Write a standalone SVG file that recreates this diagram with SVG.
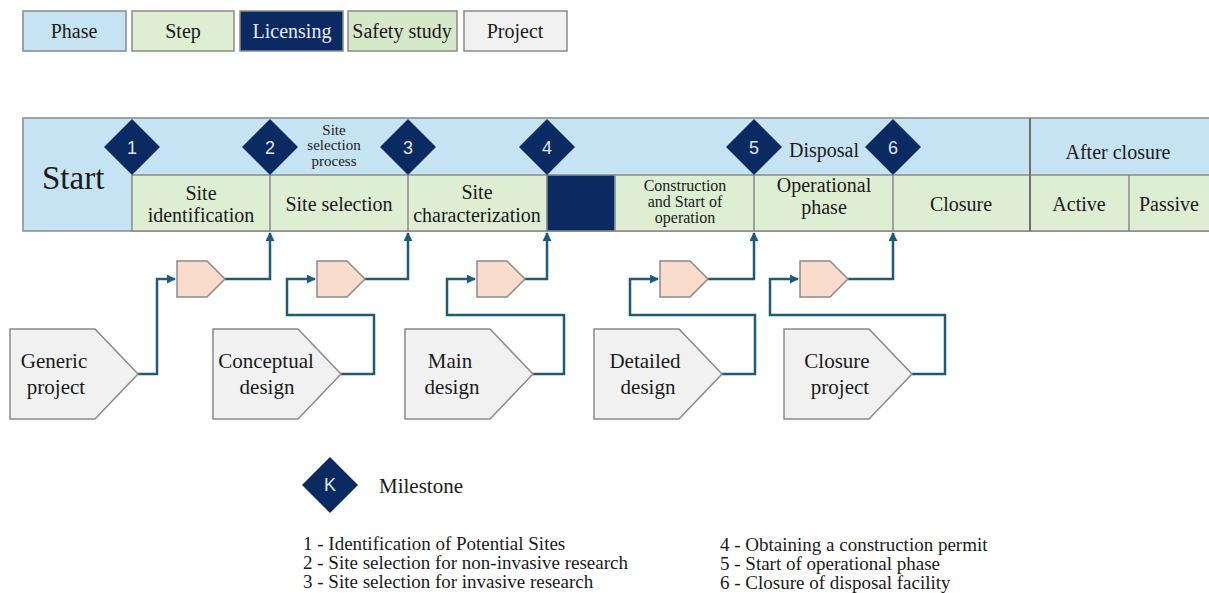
<svg xmlns="http://www.w3.org/2000/svg" width="1209" height="593" viewBox="0 0 1209 593">
<style>
.t{font-family:"Liberation Serif","Times New Roman",serif;fill:#1a1a1a;text-anchor:middle}
.tl{font-family:"Liberation Serif","Times New Roman",serif;fill:#1a1a1a}
.phase{fill:#c6e3f4;stroke:#8a8a8a;stroke-width:1.5}
.step{fill:#ddeed3;stroke:#8a8a8a;stroke-width:1.5}
.lic{fill:#0c2a62;stroke:#8a8a8a;stroke-width:1.5}
.safe{fill:#d5e9c8;stroke:#8a8a8a;stroke-width:1.5}
.proj{fill:#f1f1f1;stroke:#8a8a8a;stroke-width:1.5}
.orange{fill:#f9dccb;stroke:#8a8a8a;stroke-width:1.5}
.dia{fill:#0c2a62}
.num{font-family:"Liberation Sans",Arial,sans-serif;fill:#dfe7f1;font-size:18px;text-anchor:middle}
.conn{fill:none;stroke:#1f5b78;stroke-width:2.5}
.sep{stroke:#8a8a8a;stroke-width:1.5}
</style>
<defs>
<marker id="arr" viewBox="0 0 10 10" refX="9" refY="5" markerWidth="3.6" markerHeight="3.6" orient="auto" markerUnits="strokeWidth">
<path d="M0,0 L10,5 L0,10 z" fill="#1f5b78"/>
</marker>
</defs>

<g id="legend">
<rect class="phase" x="23" y="11" width="103" height="40"/>
<text class="t" x="74" y="38" font-size="20">Phase</text>
<rect class="step" x="132" y="11" width="102" height="40"/>
<text class="t" x="183" y="38" font-size="20">Step</text>
<rect class="lic" x="240" y="11" width="103" height="40"/>
<text class="t" x="292" y="38" font-size="20" style="fill:#e4ebf4">Licensing</text>
<rect class="safe" x="348" y="11" width="109" height="40"/>
<text class="t" x="402" y="38" font-size="20">Safety study</text>
<rect class="proj" x="464" y="11" width="103" height="40"/>
<text class="t" x="515" y="38" font-size="20">Project</text>
</g>

<g id="timeline">
<rect class="phase" x="23" y="118" width="1200" height="113"/>
<rect class="step" x="132" y="175" width="415" height="56"/>
<rect class="lic" x="547" y="175" width="68" height="56"/>
<rect class="step" x="615" y="175" width="415" height="56"/>
<rect class="step" x="1030" y="175" width="190" height="56"/>
<line class="sep" x1="270" y1="175" x2="270" y2="231"/>
<line class="sep" x1="408" y1="175" x2="408" y2="231"/>
<line class="sep" x1="754" y1="175" x2="754" y2="231"/>
<line class="sep" x1="893" y1="175" x2="893" y2="231"/>
<line class="sep" x1="1129" y1="175" x2="1129" y2="231"/>
<line x1="1030" y1="118" x2="1030" y2="231" stroke="#6f6f6f" stroke-width="2"/>
</g>

<g id="phase-labels">
<text class="tl" x="42" y="189" font-size="33">Start</text>
<text class="t" x="334" y="135" font-size="15">Site</text>
<text class="t" x="334" y="150" font-size="15">selection</text>
<text class="t" x="334" y="166" font-size="15">process</text>
<text class="t" x="824" y="157" font-size="20">Disposal</text>
<text class="t" x="1118" y="159" font-size="20">After closure</text>
</g>

<g id="step-labels">
<text class="t" x="201" y="200" font-size="20">Site</text>
<text class="t" x="201" y="222" font-size="20">identification</text>
<text class="t" x="339" y="211" font-size="20">Site selection</text>
<text class="t" x="477" y="199" font-size="20">Site</text>
<text class="t" x="477" y="222" font-size="20">characterization</text>
<text class="t" x="685" y="191" font-size="16">Construction</text>
<text class="t" x="685" y="207" font-size="16">and Start of</text>
<text class="t" x="685" y="223" font-size="16">operation</text>
<text class="t" x="824" y="192" font-size="20">Operational</text>
<text class="t" x="824" y="214" font-size="20">phase</text>
<text class="t" x="961" y="211" font-size="20">Closure</text>
<text class="t" x="1079" y="211" font-size="20">Active</text>
<text class="t" x="1169" y="211" font-size="20">Passive</text>
</g>

<g id="connectors">
<path class="conn" d="M138,374 H157 V279 H175" marker-end="url(#arr)"/>
<path class="conn" d="M225,279 H270 V233" marker-end="url(#arr)"/>
<path class="conn" d="M341,374 H374 V315 H287 V279 H315" marker-end="url(#arr)"/>
<path class="conn" d="M365,279 H408 V233" marker-end="url(#arr)"/>
<path class="conn" d="M533,374 H564 V315 H447 V279 H475" marker-end="url(#arr)"/>
<path class="conn" d="M525,279 H547 V233" marker-end="url(#arr)"/>
<path class="conn" d="M722,374 H755 V315 H630 V279 H658" marker-end="url(#arr)"/>
<path class="conn" d="M708,279 H754 V233" marker-end="url(#arr)"/>
<path class="conn" d="M912,374 H945 V315 H770 V279 H798" marker-end="url(#arr)"/>
<path class="conn" d="M848,279 H893 V233" marker-end="url(#arr)"/>
</g>

<g id="milestone-1"><polygon class="dia" points="132,119 160,147 132,175 104,147"/><text class="num" x="132" y="154">1</text></g>
<g id="milestone-2"><polygon class="dia" points="270,119 298,147 270,175 242,147"/><text class="num" x="270" y="154">2</text></g>
<g id="milestone-3"><polygon class="dia" points="408,119 436,147 408,175 380,147"/><text class="num" x="408" y="154">3</text></g>
<g id="milestone-4"><polygon class="dia" points="547,119 575,147 547,175 519,147"/><text class="num" x="547" y="154">4</text></g>
<g id="milestone-5"><polygon class="dia" points="754,119 782,147 754,175 726,147"/><text class="num" x="754" y="154">5</text></g>
<g id="milestone-6"><polygon class="dia" points="893,119 921,147 893,175 865,147"/><text class="num" x="893" y="154">6</text></g>

<g id="safety-1"><polygon class="orange" points="177,261 207,261 225,279 207,297 177,297"/></g>
<g id="safety-2"><polygon class="orange" points="317,261 347,261 365,279 347,297 317,297"/></g>
<g id="safety-3"><polygon class="orange" points="477,261 507,261 525,279 507,297 477,297"/></g>
<g id="safety-4"><polygon class="orange" points="660,261 690,261 708,279 690,297 660,297"/></g>
<g id="safety-5"><polygon class="orange" points="800,261 830,261 848,279 830,297 800,297"/></g>

<g id="project-generic"><polygon class="proj" points="10,329 95,329 138,374 95,419 10,419"/>
<text class="t" x="54" y="368" font-size="21">Generic</text><text class="t" x="56" y="394" font-size="21">project</text></g>
<g id="project-conceptual"><polygon class="proj" points="213,329 298,329 341,374 298,419 213,419"/>
<text class="t" x="266" y="368" font-size="21">Conceptual</text><text class="t" x="267" y="394" font-size="21">design</text></g>
<g id="project-main"><polygon class="proj" points="405,329 490,329 533,374 490,419 405,419"/>
<text class="t" x="450" y="368" font-size="21">Main</text><text class="t" x="452" y="394" font-size="21">design</text></g>
<g id="project-detailed"><polygon class="proj" points="594,329 679,329 722,374 679,419 594,419"/>
<text class="t" x="645" y="368" font-size="21">Detailed</text><text class="t" x="648" y="394" font-size="21">design</text></g>
<g id="project-closure"><polygon class="proj" points="784,329 869,329 912,374 869,419 784,419"/>
<text class="t" x="837" y="368" font-size="21">Closure</text><text class="t" x="840" y="394" font-size="21">project</text></g>

<g id="milestone-legend">
<polygon class="dia" points="330,457 358,485 330,513 302,485"/>
<text class="num" x="330" y="491" font-size="16">K</text>
<text class="tl" x="379" y="493" font-size="21">Milestone</text>
<text class="tl" x="303" y="550" font-size="19">1 - Identification of Potential Sites</text>
<text class="tl" x="303" y="569" font-size="19">2 - Site selection for non-invasive research</text>
<text class="tl" x="303" y="588" font-size="19">3 - Site selection for invasive research</text>
<text class="tl" x="720" y="551" font-size="19">4 - Obtaining a construction permit</text>
<text class="tl" x="720" y="570" font-size="19">5 - Start of operational phase</text>
<text class="tl" x="720" y="589" font-size="19">6 - Closure of disposal facility</text>
</g>
</svg>
